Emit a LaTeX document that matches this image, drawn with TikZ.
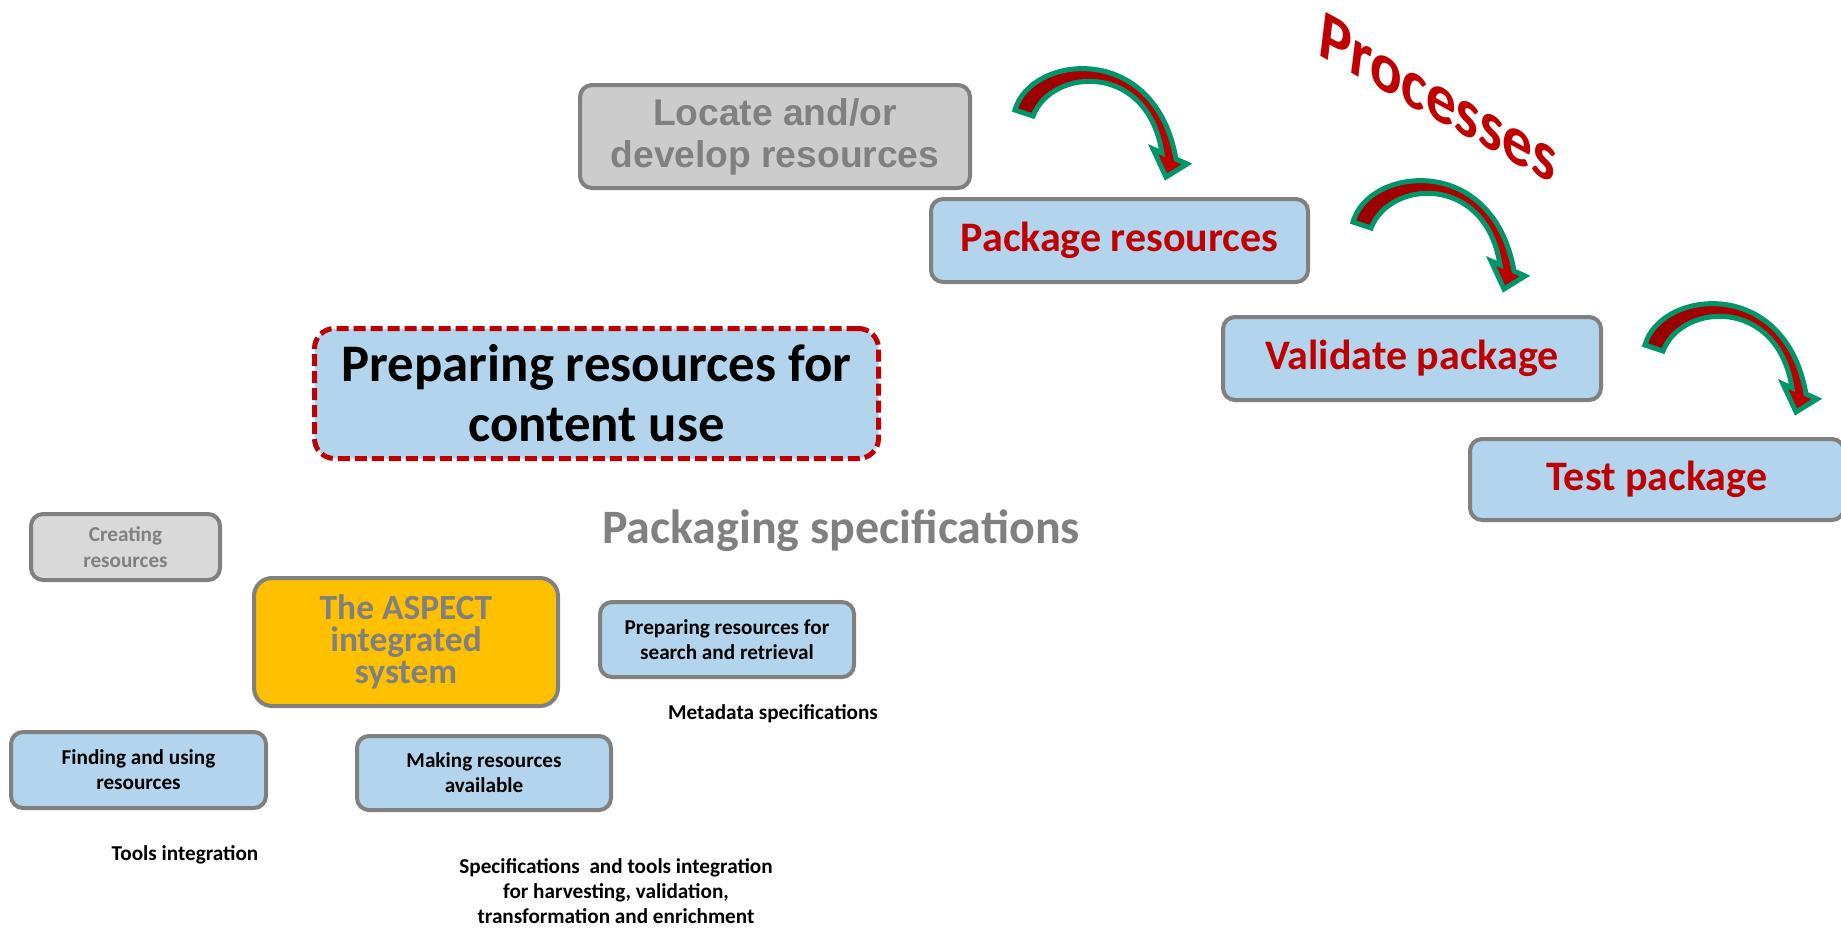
\documentclass[tikz,border=0pt]{standalone}
\usepackage{fontspec}
\setmainfont{Carlito}
\newfontfamily\arialfont{Liberation Sans}
\usepackage{tikz}

\definecolor{boxblue}{RGB}{178,212,236}
\definecolor{boxgray}{RGB}{128,128,128}
\definecolor{txtgray}{RGB}{128,128,128}
\definecolor{locgray}{RGB}{204,204,204}
\definecolor{mkgray}{RGB}{217,217,217}
\definecolor{aspectgold}{RGB}{255,192,0}
\definecolor{procred}{RGB}{192,0,0}
\definecolor{darkred}{RGB}{150,0,0}
\definecolor{arrowgreen}{RGB}{0,150,105}

\newcommand\fsz[2]{\fontsize{#1}{#2}\selectfont}

\begin{document}
\begin{tikzpicture}[x=0.5pt,y=-0.5pt,
    box/.style={draw=boxgray, line width=2pt, rounded corners=6pt, fill=boxblue,
      align=center, inner sep=0pt},
    bold/.style={font=\bfseries\fsz{10.6}{12.5}},
    bend/.pic={
      \draw[arrowgreen, line width=2.5pt, left color=darkred, right color=procred]
        (15,60) .. controls (30,5) and (155,-10) .. (176,109)
        -- (187,114) -- (166,127) -- (153,99) -- (162,103)
        .. controls (148,12) and (52,17) .. (33,66) -- cycle;
    }]
  \useasboundingbox (0,0) rectangle (1841,928);

  % process steps
  \node[box, fill=locgray, text=txtgray, minimum width=195pt, minimum height=51.5pt,
    font=\arialfont\bfseries\fsz{18.6}{21}] (loc) at (775,136.5) {Locate and/or\\develop resources};
  \node[box, text=procred, minimum width=188.5pt, minimum height=41.5pt,
    font=\bfseries\fsz{21}{25}] (pkg) at (1119.5,240.5) {Package resources};
  \node[box, text=procred, minimum width=189pt, minimum height=41.5pt,
    font=\bfseries\fsz{21}{25}] (val) at (1412,358.5) {Validate package};
  \node[box, text=procred, minimum width=187pt, minimum height=40.5pt,
    font=\bfseries\fsz{21}{25}] (tst) at (1657,479.5) {Test package};

  \node[text=procred, font=\bfseries\fsz{31}{36}, rotate=-7, yslant=-0.4, yscale=1.1]
    (proc) at (1438,98) {Processes};

  \pic at (1000,50) {bend};
  \pic at (1338,162) {bend};
  \pic at (1630,285) {bend};

  % main topic
  \node[box, draw=procred, line width=2.5pt, dash pattern=on 6pt off 2.5pt, rounded corners=10pt,
    minimum width=282pt, minimum height=65pt,
    font=\bfseries\fsz{26.4}{30}] (prep) at (596.5,393.5) {Preparing resources for\\content use};
  \node[text=txtgray, font=\bfseries\fsz{24}{28}] (spec) at (841,531) {Packaging specifications};

  % ASPECT parts
  \node[box, fill=mkgray, text=txtgray, minimum width=94.5pt, minimum height=33pt,
    font=\bfseries\fsz{10.6}{13}] (make) at (125.5,547) {Creating\\resources};
  \node[box, fill=aspectgold, text=txtgray, rounded corners=9pt, minimum width=152pt,
    minimum height=64pt, font=\bfseries\fsz{17.7}{16}] (aspect) at (406,642) {The ASPECT\\integrated\\system};
  \node[box, bold, minimum width=127pt, minimum height=37.5pt] (srch) at (727,639.5) {Preparing resources for\\search and retrieval};
  \node[box, bold, minimum width=127.5pt, minimum height=38pt] (find) at (138.5,770) {Finding and using\\resources};
  \node[box, bold, minimum width=127pt, minimum height=37pt] (avail) at (484,773) {Making resources\\available};

  \node[bold] (meta)  at (773,714) {Metadata specifications};
  \node[bold] (tools) at (185,855) {Tools integration};
  \node[bold, align=center] (harv) at (616,891.5) {Specifications\ \ and tools integration\\for harvesting, validation,\\transformation and enrichment};
\end{tikzpicture}
\end{document}
